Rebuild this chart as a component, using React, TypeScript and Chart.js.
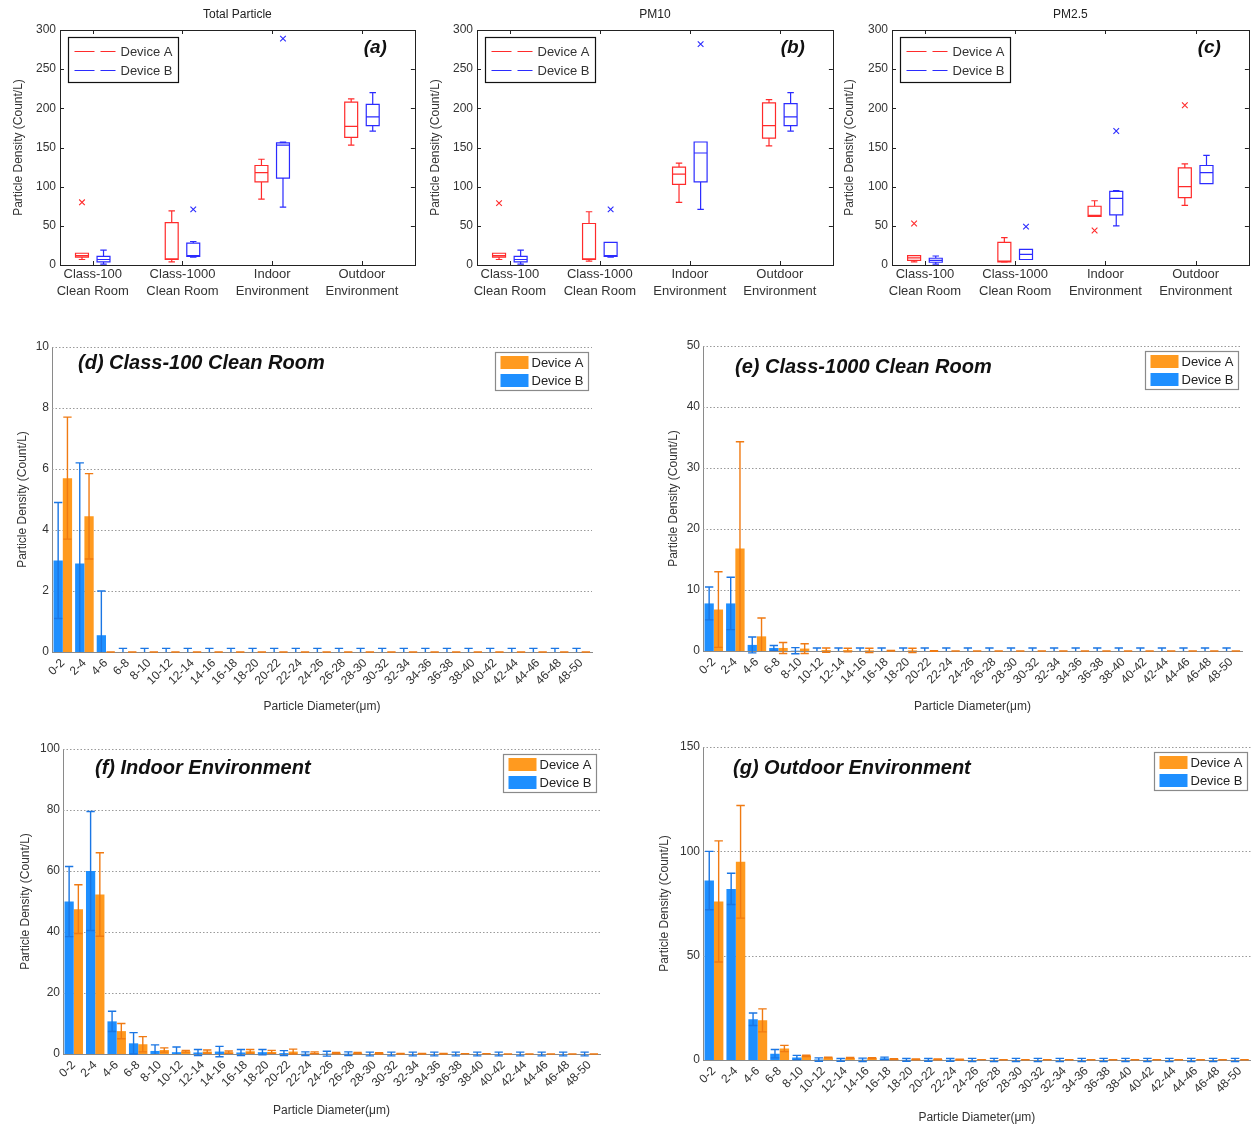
import React, { useEffect, useRef } from "react";
import { Chart, registerables } from "chart.js";

Chart.register(...registerables);

const FONT = "Arial, 'Liberation Sans', Helvetica, sans-serif";
const RED = "#ff2b2b";
const BLUE_LINE = "#2b2bff";
const ORANGE = "#ff9a1f";
const BLUE_BAR = "#1e8fff";
const ORANGE_ERR = "#f07a12";
const BLUE_ERR = "#1a76e4";
const TEXT = "#333333";

// ---------- Box plot data: [lower whisker, Q1, median, Q3, upper whisker] ----------
const boxCategories = [
  ["Class-100", "Clean Room"],
  ["Class-1000", "Clean Room"],
  ["Indoor", "Environment"],
  ["Outdoor", "Environment"],
];
const boxYMax = 300;
const boxYStep = 50;

const totalA = [[7, 10, 12, 15, 15], [4, 7, 8, 54, 69], [84, 106, 118, 127, 135], [153, 163, 177, 208, 212]];
const totalB = [[1, 4, 7, 11, 19], [10, 11, 12, 28, 30], [74, 111, 153, 156, 157], [171, 178, 189, 205, 220]];
const totalOutA = [[1, 80]];
const totalOutB = [[2, 71], [3, 289]];

const pm10A = [[7, 10, 12, 15, 15], [5, 7, 8, 53, 68], [80, 103, 116, 125, 130], [152, 162, 178, 207, 211]];
const pm10B = [[1, 4, 7, 11, 19], [10, 11, 12, 29, 29], [71, 106, 143, 157, 157], [171, 178, 189, 206, 220]];
const pm10OutA = [[1, 79]];
const pm10OutB = [[2, 71], [3, 282]];

const pm25A = [[4, 6, 9, 12, 12], [3.5, 4, 5, 29, 35], [62, 62, 63.5, 75, 82], [76, 86, 100, 124, 129]];
const pm25B = [[1, 3.5, 6, 8.6, 11.5], [7, 7, 13.6, 20, 20], [50, 64, 85, 94, 95], [104, 104, 118, 127, 140]];
const pm25OutA = [[1, 53], [3, 44], [4, 204]];
const pm25OutB = [[2, 49], [3, 171]];

// ---------- Bar chart data ----------
const diameterBins = ["0-2", "2-4", "4-6", "6-8", "8-10", "10-12", "12-14", "14-16", "16-18", "18-20", "20-22", "22-24", "24-26", "26-28", "28-30", "30-32", "32-34", "34-36", "36-38", "38-40", "40-42", "42-44", "44-46", "46-48", "48-50"];

const class100A = [5.7, 4.45, 0, 0, 0, 0, 0, 0, 0, 0, 0, 0, 0, 0, 0, 0, 0, 0, 0, 0, 0, 0, 0, 0, 0];
const class100AErr = [2.0, 1.4, 0, 0, 0, 0, 0, 0, 0, 0, 0, 0, 0, 0, 0, 0, 0, 0, 0, 0, 0, 0, 0, 0, 0];
const class100B = [3.0, 2.9, 0.55, 0, 0, 0, 0, 0, 0, 0, 0, 0, 0, 0, 0, 0, 0, 0, 0, 0, 0, 0, 0, 0, 0];
const class100BErr = [1.9, 3.3, 1.45, 0.12, 0.12, 0.12, 0.12, 0.12, 0.12, 0.12, 0.12, 0.12, 0.12, 0.12, 0.12, 0.12, 0.12, 0.12, 0.12, 0.12, 0.12, 0.12, 0.12, 0.12, 0.12];

const class1000A = [6.8, 16.8, 2.4, 0.5, 0.4, 0.15, 0.15, 0.1, 0.05, 0.1, 0, 0, 0, 0, 0, 0, 0, 0, 0, 0, 0, 0, 0, 0, 0];
const class1000AErr = [6.2, 17.5, 3.0, 0.9, 0.8, 0.35, 0.3, 0.35, 0.05, 0.35, 0.05, 0, 0, 0, 0, 0, 0, 0, 0, 0, 0, 0, 0, 0, 0];
const class1000B = [7.8, 7.8, 1.0, 0.5, 0.05, 0, 0, 0, 0, 0, 0, 0, 0, 0, 0, 0, 0, 0, 0, 0, 0, 0, 0, 0, 0];
const class1000BErr = [2.7, 4.3, 1.3, 0.4, 0.5, 0.5, 0.5, 0.5, 0.5, 0.5, 0.5, 0.5, 0.5, 0.5, 0.5, 0.5, 0.5, 0.5, 0.5, 0.5, 0.5, 0.5, 0.5, 0.5, 0.5];

const indoorA = [47.5, 52.3, 7.5, 3.2, 1.3, 0.9, 0.8, 0.6, 0.9, 0.7, 0.8, 0.4, 0.3, 0.3, 0.2, 0.1, 0.1, 0.1, 0.1, 0.1, 0, 0, 0, 0, 0];
const indoorAErr = [8, 13.7, 2.5, 2.5, 0.7, 0.3, 0.5, 0.4, 0.6, 0.5, 0.8, 0.3, 0.2, 0.2, 0.2, 0.1, 0.1, 0.1, 0, 0, 0, 0, 0, 0, 0];
const indoorB = [50, 60, 10.7, 3.5, 1.0, 0.6, 0.5, 0.8, 0.5, 0.6, 0.3, 0.1, 0.1, 0.1, 0, 0, 0, 0, 0, 0, 0, 0, 0, 0, 0];
const indoorBErr = [11.5, 19.5, 3.3, 3.5, 2.0, 1.7, 1.0, 1.7, 1.0, 0.9, 0.8, 0.6, 0.8, 0.6, 0.6, 0.6, 0.6, 0.6, 0.6, 0.6, 0.6, 0.6, 0.6, 0.6, 0.6];

const outdoorA = [76, 95, 19, 5.5, 2.0, 1.2, 1.0, 0.9, 0.4, 0.3, 0.3, 0.2, 0.2, 0.1, 0.1, 0.1, 0.1, 0.1, 0.1, 0.1, 0.1, 0.1, 0.1, 0.1, 0.1];
const outdoorAErr = [29, 27, 5.5, 1.5, 0.3, 0.2, 0.2, 0.2, 0.2, 0.2, 0.2, 0.2, 0, 0, 0, 0, 0, 0, 0, 0, 0, 0, 0, 0, 0];
const outdoorB = [86, 82, 19.5, 3.0, 1.2, 0.2, 0.1, 0.1, 0.8, 0.1, 0.1, 0.1, 0, 0, 0, 0, 0, 0, 0, 0, 0, 0, 0, 0, 0];
const outdoorBErr = [14, 7.5, 3.0, 2.0, 1.0, 0.8, 0.7, 0.8, 0.6, 0.7, 0.7, 0.7, 0.8, 0.8, 0.8, 0.8, 0.8, 0.8, 0.8, 0.8, 0.8, 0.8, 0.8, 0.8, 0.8];

// ---------- layout specs ----------
const OFF_A = -0.12;
const OFF_B = 0.12;
const BOX_HALF = 0.072;

const boxPanels = [
  { key: "a", title: "Total Particle", tag: "(a)", A: totalA, B: totalB, outA: totalOutA, outB: totalOutB, left: 0, width: 420, yW: 60, padR: 2, titlePad: 11 },
  { key: "b", title: "PM10", tag: "(b)", A: pm10A, B: pm10B, outA: pm10OutA, outB: pm10OutB, left: 420, width: 418, yW: 57, padR: 3, titlePad: 8 },
  { key: "c", title: "PM2.5", tag: "(c)", A: pm25A, B: pm25B, outA: pm25OutA, outB: pm25OutB, left: 836, width: 418, yW: 56, padR: 2, titlePad: 6 },
];

const barPanels = [
  { key: "d", title: "(d) Class-100 Clean Room", A: class100A, AErr: class100AErr, B: class100B, BErr: class100BErr, yMax: 10, yStep: 2,
    left: 0, top: 335, width: 610, height: 385, yW: 52, xH: 68, padT: 12, padR: 18, yTitlePad: 15, xTitlePad: 6, tx: 26, ty: 16 },
  { key: "e", title: "(e) Class-1000 Clean Room", A: class1000A, AErr: class1000AErr, B: class1000B, BErr: class1000BErr, yMax: 50, yStep: 10,
    left: 650, top: 335, width: 604, height: 385, yW: 53, xH: 69, padT: 11, padR: 12, yTitlePad: 16, xTitlePad: 6, tx: 32, ty: 21 },
  { key: "f", title: "(f) Indoor Environment", A: indoorA, AErr: indoorAErr, B: indoorB, BErr: indoorBErr, yMax: 100, yStep: 20,
    left: 0, top: 735, width: 615, height: 392, yW: 63, xH: 73, padT: 14, padR: 15, yTitlePad: 18, xTitlePad: 9, tx: 32, ty: 19 },
  { key: "g", title: "(g) Outdoor Environment", A: outdoorA, AErr: outdoorAErr, B: outdoorB, BErr: outdoorBErr, yMax: 150, yStep: 50,
    left: 640, top: 735, width: 614, height: 392, yW: 63, xH: 67, padT: 12, padR: 3, yTitlePad: 17, xTitlePad: 2, tx: 30, ty: 21 },
];

// ---------- box plot chart ----------
function buildBoxChart(canvas: HTMLCanvasElement, p: any) {
  const plugin = {
    id: "boxDraw",
    afterDatasetsDraw(chart: any) {
      const { ctx, scales } = chart;
      const x = scales.x, y = scales.y;
      ctx.save();
      const drawSeries = (stats: number[][], offset: number, color: string) => {
        ctx.strokeStyle = color;
        ctx.lineWidth = 1.2;
        ctx.setLineDash([]);
        stats.forEach((s, i) => {
          const pos = i + 1 + offset;
          const xc = x.getPixelForValue(pos);
          const hw = x.getPixelForValue(pos + BOX_HALF) - xc;
          const cw = hw * 0.5;
          const [lo, q1, med, q3, hi] = s.map((v) => y.getPixelForValue(v));
          ctx.beginPath();
          ctx.rect(xc - hw, q3, 2 * hw, q1 - q3);
          ctx.moveTo(xc - hw, med); ctx.lineTo(xc + hw, med);
          ctx.moveTo(xc, q3); ctx.lineTo(xc, hi);
          ctx.moveTo(xc, q1); ctx.lineTo(xc, lo);
          ctx.moveTo(xc - cw, hi); ctx.lineTo(xc + cw, hi);
          ctx.moveTo(xc - cw, lo); ctx.lineTo(xc + cw, lo);
          ctx.stroke();
        });
      };
      drawSeries(p.A, OFF_A, RED);
      drawSeries(p.B, OFF_B, BLUE_LINE);
      ctx.restore();
    },
    afterDraw(chart: any) {
      const { ctx, chartArea: ca, scales } = chart;
      const x = scales.x, y = scales.y;
      ctx.save();
      // frame
      ctx.strokeStyle = "#222";
      ctx.lineWidth = 1;
      ctx.strokeRect(Math.round(ca.left) + 0.5, Math.round(ca.top) + 0.5, Math.round(ca.right - ca.left), Math.round(ca.bottom - ca.top));
      // inner ticks
      ctx.beginPath();
      y.ticks.forEach((t: any) => {
        const yp = Math.round(y.getPixelForValue(t.value)) + 0.5;
        ctx.moveTo(ca.left, yp); ctx.lineTo(ca.left + 4, yp);
        ctx.moveTo(ca.right - 4, yp); ctx.lineTo(ca.right, yp);
      });
      x.ticks.forEach((t: any) => {
        const xp = Math.round(x.getPixelForValue(t.value)) + 0.5;
        ctx.moveTo(xp, ca.bottom); ctx.lineTo(xp, ca.bottom - 4);
        ctx.moveTo(xp, ca.top); ctx.lineTo(xp, ca.top + 4);
      });
      ctx.stroke();
      // title
      ctx.fillStyle = "#222";
      ctx.font = `12px ${FONT}`;
      ctx.textAlign = "center";
      ctx.textBaseline = "middle";
      ctx.fillText(p.title, (ca.left + ca.right) / 2, 15);
      // tag
      ctx.font = `italic bold 19px ${FONT}`;
      ctx.textAlign = "right";
      ctx.fillStyle = "#111";
      ctx.fillText(p.tag, ca.right - 28, ca.top + 18);
      // legend
      const lx = Math.round(ca.left + 8) + 0.5, ly = Math.round(ca.top + 7) + 0.5;
      ctx.fillStyle = "#fff";
      ctx.fillRect(lx, ly, 110, 45);
      ctx.strokeStyle = "#111";
      ctx.lineWidth = 1.2;
      ctx.strokeRect(lx, ly, 110, 45);
      const entries = [["Device A", RED], ["Device B", BLUE_LINE]];
      entries.forEach(([label, col], i) => {
        const ey = ly + 14 + i * 19;
        ctx.strokeStyle = col;
        ctx.lineWidth = 1.2;
        ctx.setLineDash([20, 6]);
        ctx.beginPath();
        ctx.moveTo(lx + 6, ey); ctx.lineTo(lx + 47, ey);
        ctx.stroke();
        ctx.setLineDash([]);
        ctx.fillStyle = TEXT;
        ctx.font = `13px ${FONT}`;
        ctx.textAlign = "left";
        ctx.fillText(label, lx + 52, ey + 1);
      });
      ctx.restore();
    },
  };

  const outlierSet = (pts: number[][], off: number, color: string) => ({
    label: "outliers",
    data: pts.map(([c, v]) => ({ x: c + off, y: v })),
    pointStyle: "crossRot",
    pointRadius: 4,
    borderColor: color,
    backgroundColor: color,
    borderWidth: 1.1,
    showLine: false,
  });

  return new Chart(canvas, {
    type: "scatter",
    data: { datasets: [outlierSet(p.outA, OFF_A, RED), outlierSet(p.outB, OFF_B, BLUE_LINE)] as any },
    options: {
      animation: false,
      responsive: false,
      devicePixelRatio: 1,
      layout: { padding: { left: 0, right: p.padR, top: 30, bottom: 0 } },
      plugins: { legend: { display: false }, tooltip: { enabled: false }, title: { display: false } },
      scales: {
        x: {
          type: "linear",
          min: 0.635,
          max: 4.59,
          afterBuildTicks: (s: any) => { s.ticks = boxCategories.map((_, i) => ({ value: i + 1 })); },
          afterFit: (s: any) => { s.height = 40; },
          ticks: {
            callback: (v: any) => boxCategories[Math.round(v) - 1],
            font: { family: FONT, size: 13, lineHeight: 1.3 },
            color: TEXT,
            maxRotation: 0,
            minRotation: 0,
            autoSkip: false,
            padding: 1,
          },
          grid: { display: false, drawTicks: false },
          border: { display: false },
        },
        y: {
          min: 0,
          max: boxYMax,
          afterFit: (s: any) => { s.width = p.yW; },
          ticks: { stepSize: boxYStep, font: { family: FONT, size: 12 }, color: TEXT, padding: 4 },
          grid: { display: false, drawTicks: false },
          border: { display: false },
          title: { display: true, text: "Particle Density (Count/L)", font: { family: FONT, size: 12 }, color: TEXT, padding: { top: p.titlePad, bottom: 0 } },
        },
      },
    } as any,
    plugins: [plugin as any],
  });
}

// ---------- bar chart ----------
function buildBarChart(canvas: HTMLCanvasElement, p: any) {
  const errs = [p.BErr, p.AErr];
  const errColors = [BLUE_ERR, ORANGE_ERR];
  const plugin = {
    id: "barExtras",
    beforeDatasetsDraw(chart: any) {
      const { ctx, chartArea: ca, scales } = chart;
      const y = scales.y;
      ctx.save();
      ctx.strokeStyle = "#9a9a9a";
      ctx.lineWidth = 1;
      ctx.setLineDash([1.5, 2]);
      y.ticks.forEach((t: any) => {
        if (t.value === 0) return;
        const yp = Math.round(y.getPixelForValue(t.value)) + 0.5;
        ctx.beginPath();
        ctx.moveTo(ca.left, yp);
        ctx.lineTo(ca.right, yp);
        ctx.stroke();
      });
      ctx.restore();
    },
    afterDatasetsDraw(chart: any) {
      const { ctx, scales, chartArea: ca } = chart;
      const y = scales.y;
      ctx.save();
      chart.data.datasets.forEach((ds: any, di: number) => {
        const meta = chart.getDatasetMeta(di);
        ctx.strokeStyle = errColors[di];
        ctx.lineWidth = 1.4;
        meta.data.forEach((el: any, j: number) => {
          const v = ds.data[j];
          const e = errs[di][j];
          const xc = el.x;
          const cw = el.width * 0.45;
          const top = y.getPixelForValue(v + e);
          const rawBot = y.getPixelForValue(v - e);
          const clipped = rawBot > ca.bottom + 3;
          const bot = clipped ? ca.bottom : rawBot;
          ctx.beginPath();
          ctx.moveTo(xc, top); ctx.lineTo(xc, bot);
          ctx.moveTo(xc - cw, top); ctx.lineTo(xc + cw, top);
          if (!clipped) { ctx.moveTo(xc - cw, bot); ctx.lineTo(xc + cw, bot); }
          ctx.stroke();
        });
      });
      ctx.restore();
    },
    afterDraw(chart: any) {
      const { ctx, chartArea: ca } = chart;
      ctx.save();
      // panel title
      ctx.fillStyle = "#111";
      ctx.font = `italic bold 20px ${FONT}`;
      ctx.textAlign = "left";
      ctx.textBaseline = "middle";
      ctx.fillText(p.title, ca.left + p.tx, ca.top + p.ty);
      // legend
      const bw = 93, bh = 38;
      const bx = Math.round(ca.right - 4 - bw) + 0.5;
      const by = Math.round(ca.top + 5) + 0.5;
      ctx.fillStyle = "#fff";
      ctx.fillRect(bx, by, bw, bh);
      ctx.strokeStyle = "#8a8a8a";
      ctx.lineWidth = 1.2;
      ctx.strokeRect(bx, by, bw, bh);
      const entries = [["Device A", ORANGE], ["Device B", BLUE_BAR]];
      entries.forEach(([label, col], i) => {
        const cy = by + 10 + i * 18;
        ctx.fillStyle = col;
        ctx.fillRect(bx + 5, cy - 6.5, 28, 13);
        ctx.fillStyle = "#222";
        ctx.font = `13px ${FONT}`;
        ctx.fillText(label, bx + 36, cy + 1);
      });
      ctx.restore();
    },
  };

  return new Chart(canvas, {
    type: "bar",
    data: {
      labels: diameterBins,
      datasets: [
        { label: "Device B", data: p.B, backgroundColor: BLUE_BAR, barPercentage: 1, categoryPercentage: 0.86 },
        { label: "Device A", data: p.A, backgroundColor: ORANGE, barPercentage: 1, categoryPercentage: 0.86 },
      ],
    },
    options: {
      animation: false,
      responsive: false,
      devicePixelRatio: 1,
      layout: { padding: { left: 0, right: p.padR, top: p.padT, bottom: 0 } },
      plugins: { legend: { display: false }, tooltip: { enabled: false }, title: { display: false } },
      scales: {
        x: {
          afterFit: (s: any) => { s.height = p.xH; },
          ticks: { font: { family: FONT, size: 12 }, color: TEXT, maxRotation: 45, minRotation: 45, autoSkip: false, padding: 4 },
          grid: { display: false, drawTicks: false },
          border: { display: true, color: "#8a8a8a", width: 1 },
          title: { display: true, text: "Particle Diameter(\u03bcm)", font: { family: FONT, size: 12 }, color: TEXT, padding: { top: 0, bottom: p.xTitlePad } },
        },
        y: {
          min: 0,
          max: p.yMax,
          afterFit: (s: any) => { s.width = p.yW; },
          ticks: { stepSize: p.yStep, font: { family: FONT, size: 12 }, color: TEXT, padding: 3 },
          grid: { display: false, drawTicks: false },
          border: { display: true, color: "#8a8a8a", width: 1 },
          title: { display: true, text: "Particle Density (Count/L)", font: { family: FONT, size: 12 }, color: TEXT, padding: { top: p.yTitlePad, bottom: 0 } },
        },
      },
    } as any,
    plugins: [plugin as any],
  });
}

function Panel({ left, top, width, height, build, spec }: any) {
  const ref = useRef<HTMLCanvasElement>(null);
  useEffect(() => {
    if (!ref.current) return;
    const chart = build(ref.current, spec);
    return () => chart.destroy();
  }, []);
  return (
    <canvas
      ref={ref}
      width={width}
      height={height}
      style={{ position: "absolute", left, top, width, height, display: "block" }}
    />
  );
}

export default function App() {
  return (
    <div style={{ position: "absolute", left: 0, top: 0, width: 1254, height: 1127, background: "#fff", overflow: "hidden" }}>
      {boxPanels.map((p) => (
        <Panel key={p.key} left={p.left} top={0} width={p.width} height={305} build={buildBoxChart} spec={p} />
      ))}
      {barPanels.map((p) => (
        <Panel key={p.key} left={p.left} top={p.top} width={p.width} height={p.height} build={buildBarChart} spec={p} />
      ))}
    </div>
  );
}
